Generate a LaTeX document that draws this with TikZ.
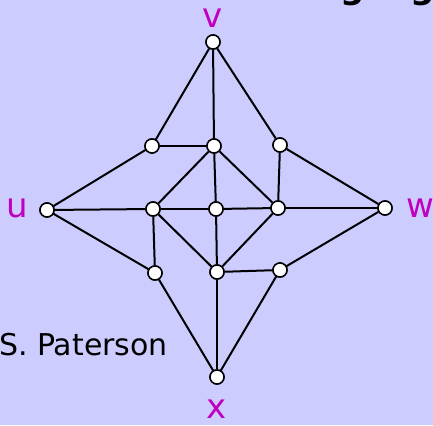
\documentclass[tikz,border=0pt]{standalone}
\usepackage{fontspec}
\setmainfont{DejaVu Sans}
\definecolor{bgblue}{HTML}{CCCCFF}
\definecolor{lblpink}{HTML}{C000C0}
\begin{document}
\begin{tikzpicture}[x=1pt,y=-1pt,
  vert/.style={draw, circle, fill=white, line width=1.5pt, minimum size=14pt, inner sep=0pt},
  lbl/.style={text=lblpink, font=\fontsize{34}{38}\selectfont, inner sep=0pt},
  edge/.style={line width=2pt}]
\fill[bgblue] (0,0) rectangle (433,425);
\useasboundingbox (0,0) rectangle (433,425);
% outer vertices
\node[vert] (v) at (213,42) {};
\node[vert] (u) at (47,210) {};
\node[vert] (w) at (385,208) {};
\node[vert] (x) at (217,377) {};
% inner vertices
\node[vert] (a) at (152,146) {};
\node[vert] (b) at (214,146) {};
\node[vert] (c) at (280,145) {};
\node[vert] (d) at (153,209) {};
\node[vert] (e) at (216,209) {};
\node[vert] (f) at (278,208) {};
\node[vert] (g) at (155,273) {};
\node[vert] (h) at (217,272) {};
\node[vert] (i) at (280,270) {};
% labels
\node[lbl] (lv) at (213,18) {v};
\node[lbl] (lu) at (17,208) {u};
\node[lbl] (lw) at (420,208) {w};
\node[lbl] (lx) at (217,409) {x};
% texts cut by the frame
\begin{scope}
\clip (0,0) rectangle (433,425);
\node[anchor=base east, inner sep=0pt, font=\fontsize{30}{34}\selectfont] (name) at (168,355) {S. Paterson};
\node[anchor=south, inner sep=0pt, font=\fontsize{34}{38}\selectfont\bfseries] (t1) at (353,6) {g};
\node[anchor=south, inner sep=0pt, font=\fontsize{34}{38}\selectfont\bfseries] (t2) at (423,6) {g};
\end{scope}
% edges
\begin{scope}[edge]
\draw (v) -- (a); \draw (v) -- (b); \draw (v) -- (c);
\draw (u) -- (a); \draw (u) -- (d); \draw (u) -- (g);
\draw (w) -- (c); \draw (w) -- (f); \draw (w) -- (i);
\draw (x) -- (g); \draw (x) -- (h); \draw (x) -- (i);
\draw (a) -- (b);
\draw (b) -- (d); \draw (b) -- (e); \draw (b) -- (f);
\draw (c) -- (f);
\draw (d) -- (e); \draw (e) -- (f);
\draw (d) -- (g); \draw (d) -- (h);
\draw (e) -- (h); \draw (f) -- (h);
\draw (h) -- (i);
\end{scope}
% redraw vertices on top
\foreach \n in {v,u,w,x,a,b,c,d,e,f,g,h,i}
  \node[vert] at (\n) {};
\end{tikzpicture}
\end{document}
